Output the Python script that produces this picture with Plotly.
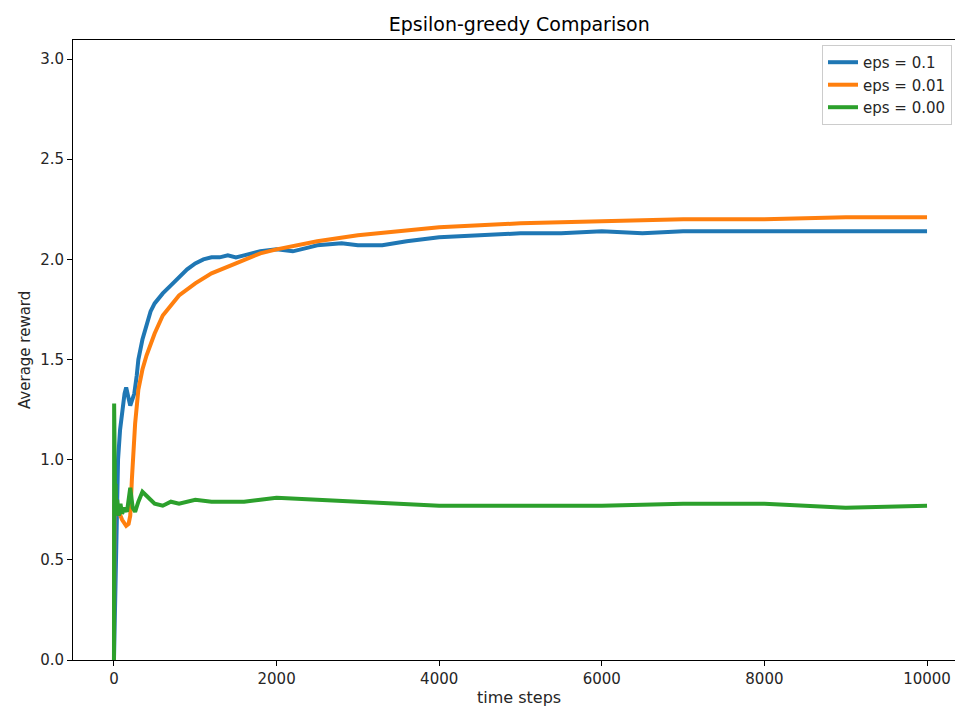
import plotly.graph_objects as go

# eps = 0.1
x_blue = [0, 10, 20, 35, 50, 75, 100, 130, 150, 175, 200, 225, 250, 280, 300, 350, 400, 450, 500, 600, 700, 800, 900, 1000, 1100, 1200, 1300, 1400, 1500, 1600, 1700, 1800, 2000, 2200, 2400, 2500, 2800, 3000, 3300, 3600, 4000, 4500, 5000, 5500, 6000, 6500, 7000, 7500, 8000, 8500, 9000, 9500, 10000]
y_blue = [0.0, 0.2, 0.32, 0.7, 1.0, 1.15, 1.25, 1.33, 1.36, 1.3, 1.27, 1.3, 1.33, 1.42, 1.5, 1.6, 1.68, 1.74, 1.78, 1.83, 1.87, 1.91, 1.95, 1.98, 2.0, 2.01, 2.01, 2.02, 2.01, 2.02, 2.03, 2.04, 2.05, 2.04, 2.06, 2.07, 2.08, 2.07, 2.07, 2.09, 2.11, 2.12, 2.13, 2.13, 2.14, 2.13, 2.14, 2.14, 2.14, 2.14, 2.14, 2.14, 2.14]

# eps = 0.01
x_orange = [0, 5, 10, 30, 50, 100, 150, 180, 200, 220, 240, 260, 300, 350, 400, 500, 600, 700, 800, 1000, 1200, 1500, 1800, 2000, 2500, 3000, 3500, 4000, 4500, 5000, 6000, 7000, 8000, 9000, 10000]
y_orange = [0.0, 0.8, 0.78, 0.76, 0.75, 0.7, 0.67, 0.68, 0.72, 0.9, 1.05, 1.18, 1.35, 1.45, 1.52, 1.63, 1.72, 1.77, 1.82, 1.88, 1.93, 1.98, 2.03, 2.05, 2.09, 2.12, 2.14, 2.16, 2.17, 2.18, 2.19, 2.2, 2.2, 2.21, 2.21]

# eps = 0.00
x_green = [0, 2, 4, 6, 10, 15, 20, 30, 40, 60, 80, 100, 130, 160, 200, 230, 260, 300, 350, 400, 450, 500, 600, 700, 800, 1000, 1200, 1400, 1600, 1800, 2000, 2500, 3000, 3500, 4000, 5000, 6000, 7000, 8000, 8500, 9000, 10000]
y_green = [0.0, 1.28, 1.0, 0.75, 0.95, 0.72, 0.88, 0.73, 0.8, 0.72, 0.78, 0.73, 0.76, 0.74, 0.86, 0.76, 0.74, 0.79, 0.84, 0.82, 0.8, 0.78, 0.77, 0.79, 0.78, 0.8, 0.79, 0.79, 0.79, 0.8, 0.81, 0.8, 0.79, 0.78, 0.77, 0.77, 0.77, 0.78, 0.78, 0.77, 0.76, 0.77]

series_names = ["eps = 0.1", "eps = 0.01", "eps = 0.00"]
colors = ["#1f77b4", "#ff7f0e", "#2ca02c"]

x_ticks = [0, 2000, 4000, 6000, 8000, 10000]
y_ticks = [0, 0.5, 1.0, 1.5, 2.0, 2.5, 3.0]
y_tick_text = ["0.0", "0.5", "1.0", "1.5", "2.0", "2.5", "3.0"]

fig = go.Figure()
for xs, ys, name, c in zip([x_blue, x_orange, x_green], [y_blue, y_orange, y_green], series_names, colors):
    fig.add_trace(go.Scatter(x=xs, y=ys, mode="lines", name=name,
                             line=dict(color=c, width=4)))

font_family = "DejaVu Sans"
fig.update_layout(
    width=955, height=708,
    margin=dict(l=73, r=0, t=40, b=48),
    paper_bgcolor="white", plot_bgcolor="white",
    font=dict(family=font_family, size=15, color="#262626"),
    title=dict(text="Epsilon-greedy Comparison", x=0.506, xref="paper", xanchor="center",
               y=1 - 24 / 708, yref="container", yanchor="middle", font=dict(size=19, color="black")),
    showlegend=True,
    legend=dict(x=0.9966, y=0.992, xanchor="right", yanchor="top",
                bgcolor="rgba(255,255,255,0.8)", bordercolor="#cccccc", borderwidth=1,
                font=dict(size=15, color="#262626"), tracegroupgap=0),
    annotations=[
        dict(text="time steps", xref="paper", yref="paper", x=0.506, y=-0.06,
             xanchor="center", yanchor="middle", showarrow=False, font=dict(size=16, color="#262626")),
        dict(text="Average reward", xref="paper", yref="paper", x=-0.0544, y=0.5,
             xanchor="center", yanchor="middle", textangle=-90, showarrow=False,
             font=dict(size=15, color="#262626")),
    ],
)
fig.update_xaxes(range=[-504, 10344], showgrid=False, zeroline=False,
                 showline=True, linecolor="black", linewidth=1, mirror=True,
                 ticks="outside", ticklen=5, tickcolor="black",
                 tickvals=x_ticks, ticktext=[str(v) for v in x_ticks],
                 tickfont=dict(size=15))
fig.update_yaxes(range=[0, 3.095], showgrid=False, zeroline=False,
                 showline=True, linecolor="black", linewidth=1,
                 ticks="outside", ticklen=5, tickcolor="black",
                 tickvals=y_ticks, ticktext=y_tick_text, tickfont=dict(size=15))

fig.write_html("out.html", config={"displayModeBar": False},
               post_script="document.body.style.margin='0';document.body.style.overflow='hidden';")
